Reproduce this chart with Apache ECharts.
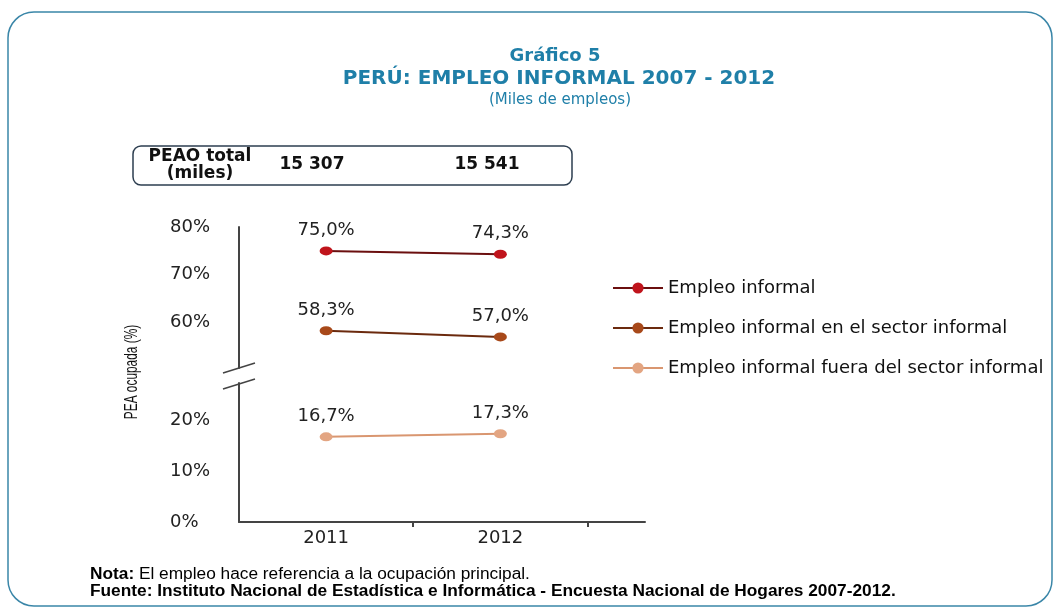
<!DOCTYPE html>
<html>
<head>
<meta charset="utf-8">
<title>Gráfico 5 - Perú: empleo informal</title>
<script src="https://cdn.jsdelivr.net/npm/echarts@6/dist/echarts.min.js"></script>
<style>
    html, body { margin: 0; padding: 0; background: #fff; }
    #chart { width: 1059px; height: 609px; }
</style>
</head>
<body>
<div id="chart"></div>
<script>
'use strict';

// datos
var years = ['2011', '2012'];
var peaoTotal = [15307, 15541];
var empleoInformal = [75.0, 74.3];
var informalEnSector = [58.3, 57.0];
var informalFueraSector = [16.7, 17.3];
var upperTicks = [60, 70, 80];
var lowerTicks = [0, 10, 20];
var seriesNames = [
    'Empleo informal',
    'Empleo informal en el sector informal',
    'Empleo informal fuera del sector informal'
];

var FONT = '"DejaVu Sans", sans-serif';
var TEAL = '#1f7fa8';

function toPoints(values) {
    return years.map(function (y, i) {
        return [i + 0.5, values[i]];
    });
}

function pct(v) {
    return v.toFixed(1).replace('.', ',') + '%';
}

function miles(v) {
    return String(v).replace(/\B(?=(\d{3})+(?!\d))/g, ' ');
}

function lineSeries(name, values, axis, lineColor, dotColor) {
    return {
        name: name,
        type: 'line',
        xAxisIndex: axis,
        yAxisIndex: axis,
        data: toPoints(values),
        symbol: 'circle',
        symbolSize: [13, 9],
        lineStyle: { color: lineColor, width: 2 },
        itemStyle: { color: dotColor },
        label: {
            show: true,
            position: 'top',
            distance: 7,
            fontFamily: FONT,
            fontSize: 18,
            color: '#222',
            formatter: function (p) {
                return pct(p.value[1]);
            }
        }
    };
}

function yAxis(grid, min, max, ticks) {
    return {
        type: 'value',
        gridIndex: grid,
        min: min,
        max: max,
        splitLine: { show: false },
        axisTick: { show: false },
        axisLine: { show: true, lineStyle: { color: '#444', width: 2 } },
        axisLabel: {
            customValues: ticks,
            align: 'left',
            margin: 69,
            fontFamily: FONT,
            fontSize: 18,
            color: '#222',
            formatter: '{value}%'
        }
    };
}

var chart = echarts.init(document.getElementById('chart'), null, { renderer: 'canvas' });

// cabecera, recuadro PEAO, corte del eje y notas
var graphics = [
    {
        type: 'rect',
        shape: { x: 8, y: 12, width: 1044, height: 594, r: 26 },
        style: { fill: 'none', stroke: '#3a86a8', lineWidth: 1.5 }
    },
    {
        type: 'text', x: 555, y: 56,
        style: { text: 'Gráfico 5', font: 'bold 18px ' + FONT, fill: TEAL, textAlign: 'center', textVerticalAlign: 'middle' }
    },
    {
        type: 'text', x: 559, y: 79,
        style: { text: 'PERÚ: EMPLEO INFORMAL 2007 - 2012', font: 'bold 20px ' + FONT, fill: TEAL, textAlign: 'center', textVerticalAlign: 'middle' }
    },
    {
        type: 'text', x: 560, y: 100,
        style: { text: '(Miles de empleos)', font: '15px ' + FONT, fill: TEAL, textAlign: 'center', textVerticalAlign: 'middle' }
    },
    {
        type: 'rect',
        shape: { x: 133, y: 146, width: 439, height: 39, r: 8 },
        style: { fill: 'none', stroke: '#2d3e50', lineWidth: 1.5 }
    },
    {
        type: 'text', x: 200, y: 157,
        style: { text: 'PEAO total', font: 'bold 17px ' + FONT, fill: '#111', textAlign: 'center', textVerticalAlign: 'middle' }
    },
    {
        type: 'text', x: 200, y: 174,
        style: { text: '(miles)', font: 'bold 17px ' + FONT, fill: '#111', textAlign: 'center', textVerticalAlign: 'middle' }
    },
    {
        type: 'text', x: 312, y: 165,
        style: { text: miles(peaoTotal[0]), font: 'bold 17px ' + FONT, fill: '#111', textAlign: 'center', textVerticalAlign: 'middle' }
    },
    {
        type: 'text', x: 487, y: 165,
        style: { text: miles(peaoTotal[1]), font: 'bold 17px ' + FONT, fill: '#111', textAlign: 'center', textVerticalAlign: 'middle' }
    },
    {
        type: 'text', x: 132, y: 372, rotation: Math.PI / 2, scaleX: 0.66,
        style: { text: 'PEA ocupada (%)', font: '18px "Liberation Sans", sans-serif', fill: '#111', textAlign: 'center', textVerticalAlign: 'middle' }
    },
    {
        type: 'line',
        shape: { x1: 223, y1: 373, x2: 255, y2: 363 },
        style: { stroke: '#444', lineWidth: 1.5 }
    },
    {
        type: 'line',
        shape: { x1: 223, y1: 389, x2: 255, y2: 379 },
        style: { stroke: '#444', lineWidth: 1.5 }
    },
    {
        type: 'text', x: 90, y: 575, scaleX: 1.08,
        style: {
            text: '{b|Nota:} El empleo hace referencia a la ocupación principal.',
            font: '16px "Liberation Sans", sans-serif',
            fill: '#000',
            textVerticalAlign: 'middle',
            rich: { b: { fontWeight: 'bold', fontSize: 16, fontFamily: '"Liberation Sans", sans-serif' } }
        }
    },
    {
        type: 'text', x: 90, y: 592, scaleX: 1.08,
        style: {
            text: 'Fuente: Instituto Nacional de Estadística e Informática - Encuesta Nacional de Hogares 2007-2012.',
            font: 'bold 16px "Liberation Sans", sans-serif',
            fill: '#000',
            textVerticalAlign: 'middle'
        }
    }
];

var xRange = { min: 0, max: 2.33 };

var option = {
    backgroundColor: '#fff',
    animation: false,
    textStyle: { fontFamily: FONT },
    grid: [
        { left: 239, width: 406, top: 227, height: 141 },
        { left: 239, width: 406, top: 383, height: 139 }
    ],
    xAxis: [
        { type: 'value', gridIndex: 0, min: xRange.min, max: xRange.max, show: false },
        {
            type: 'value',
            gridIndex: 1,
            min: xRange.min,
            max: xRange.max,
            splitLine: { show: false },
            axisLine: { show: true, lineStyle: { color: '#444', width: 2 } },
            axisTick: { show: true, customValues: [1, 2], length: 5, lineStyle: { color: '#444', width: 2 } },
            axisLabel: {
                customValues: years.map(function (y, i) { return i + 0.5; }),
                margin: 7,
                fontFamily: FONT,
                fontSize: 18,
                color: '#222',
                formatter: function (v) {
                    return years[Math.floor(v)];
                }
            }
        }
    ],
    yAxis: [
        yAxis(0, 50.5, 80, upperTicks),
        yAxis(1, 0, 27.25, lowerTicks)
    ],
    legend: {
        orient: 'vertical',
        left: 612,
        top: 279,
        padding: 0,
        itemWidth: 50,
        itemHeight: 14,
        itemGap: 22,
        textStyle: { fontFamily: FONT, fontSize: 18, color: '#111' },
        data: seriesNames
    },
    series: [
        lineSeries(seriesNames[0], empleoInformal, 0, '#6b0f0f', '#c0141c'),
        lineSeries(seriesNames[1], informalEnSector, 0, '#6b2a0e', '#a8491a'),
        lineSeries(seriesNames[2], informalFueraSector, 1, '#d99670', '#e3a582')
    ],
    graphic: graphics
};

chart.setOption(option);
</script>
</body>
</html>
